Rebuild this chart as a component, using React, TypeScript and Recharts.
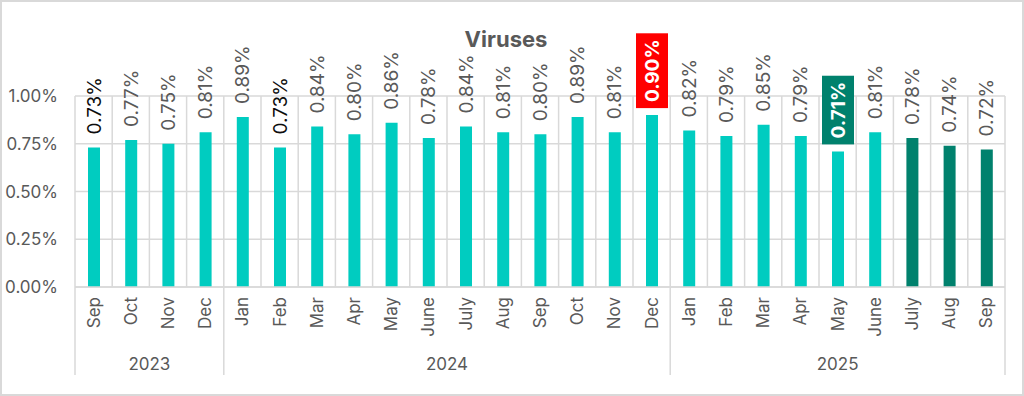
import React from "react";
import { BarChart, Bar, XAxis, YAxis, CartesianGrid, LabelList, Cell } from "recharts";

const months = [
  "Sep", "Oct", "Nov", "Dec",
  "Jan", "Feb", "Mar", "Apr", "May", "June", "July", "Aug", "Sep", "Oct", "Nov", "Dec",
  "Jan", "Feb", "Mar", "Apr", "May", "June", "July", "Aug", "Sep",
];
const years = [
  "2023", "2023", "2023", "2023",
  "2024", "2024", "2024", "2024", "2024", "2024", "2024", "2024", "2024", "2024", "2024", "2024",
  "2025", "2025", "2025", "2025", "2025", "2025", "2025", "2025", "2025",
];
const viruses = [
  0.73, 0.77, 0.75, 0.81,
  0.89, 0.73, 0.84, 0.8, 0.86, 0.78, 0.84, 0.81, 0.8, 0.89, 0.81, 0.9,
  0.82, 0.79, 0.85, 0.79, 0.71, 0.81, 0.78, 0.74, 0.72,
];
const yTicks = [0, 0.25, 0.5, 0.75, 1];

// styling by index
const redLabel = 15;
const greenLabel = 20;
const darkBars = [22, 23, 24];
const blackLabels = [0, 5];

const W = 1024;
const H = 396;
const LEFT = 75;
const RIGHT = 19;
const TOP = 96;
const AXIS_H = 109;
const PLOT_W = W - LEFT - RIGHT;

const FONT = "Inter, 'Noto Sans', sans-serif";
const GRAY = "#595959";
const GRID = "#d9d9d9";
const TEAL = "#00ccc0";
const DARK = "#00816d";

const data = months.map((m, i) => ({ id: `${years[i]}-${m}-${i}`, month: m, year: years[i], value: viruses[i] }));

let ctx: CanvasRenderingContext2D | null = null;
function measure(text: string, font: string) {
  if (!ctx) ctx = document.createElement("canvas").getContext("2d");
  if (!ctx) return text.length * 12;
  ctx.font = font;
  return ctx.measureText(text).width;
}

const MonthTick = (props: any) => {
  const { x, y, payload } = props;
  const i = props.index ?? payload.index;
  const band = PLOT_W / months.length;
  const year = years[i];
  const first = i === 0 || years[i - 1] !== year;
  const last = i === months.length - 1;
  let n = 0;
  while (first && years[i + n] === year) n++;
  return (
    <g>
      <text
        transform={`translate(${x},${y + 10}) rotate(-90)`}
        textAnchor="end"
        dominantBaseline="central"
        fontSize={17}
        fontFamily={FONT}
        fill={GRAY}
      >
        {months[i]}
      </text>
      {first && <line x1={x - band / 2} x2={x - band / 2} y1={y} y2={y + 88} stroke={GRID} strokeWidth={1.5} />}
      {last && <line x1={x + band / 2} x2={x + band / 2} y1={y} y2={y + 88} stroke={GRID} strokeWidth={1.5} />}
      {first && (
        <text
          x={x - band / 2 + (n * band) / 2}
          y={y + 77}
          textAnchor="middle"
          dominantBaseline="central"
          fontSize={17}
          fontFamily={FONT}
          fill={GRAY}
        >
          {year}
        </text>
      )}
    </g>
  );
};

const renderLabel = (p: any) => {
  const { x, y, width, value, index } = p;
  const cx = Number(x) + Number(width) / 2;
  const base = Number(y) - 13;
  const text = Number(value).toFixed(2) + "%";
  const box = index === redLabel ? "#ff0000" : index === greenLabel ? DARK : null;
  if (box) {
    const len = measure(text, `bold 19px ${FONT}`);
    return (
      <g>
        <rect x={cx - 16} y={base - len - 6} width={32} height={len + 12} fill={box} />
        <text
          transform={`translate(${cx},${base}) rotate(-90)`}
          textAnchor="start"
          dominantBaseline="central"
          fontSize={19}
          fontWeight="bold"
          fontFamily={FONT}
          fill="#ffffff"
        >
          {text}
        </text>
      </g>
    );
  }
  return (
    <text
      transform={`translate(${cx},${base}) rotate(-90)`}
      textAnchor="start"
      dominantBaseline="central"
      fontSize={19}
      fontFamily={FONT}
      fill={blackLabels.includes(index) ? "#0d0d0d" : GRAY}
    >
      {text}
    </text>
  );
};

export default function App() {
  return (
    <div style={{ position: "absolute", left: 0, top: 0, width: W, height: H, background: "#fff" }}>
      <div
        style={{
          position: "absolute",
          left: 0,
          top: 26,
          width: 1012,
          textAlign: "center",
          fontFamily: FONT,
          fontWeight: 700,
          fontSize: 22,
          color: GRAY,
        }}
      >
        Viruses
      </div>
      <BarChart width={W} height={H} data={data} margin={{ top: TOP, right: RIGHT, bottom: 0, left: 0 }}>
        <CartesianGrid
          stroke={GRID}
          strokeWidth={1.5}
          verticalCoordinatesGenerator={({ offset }: any) =>
            Array.from({ length: months.length + 1 }, (_, i) => offset.left + (i * offset.width) / months.length)
          }
        />
        <XAxis
          dataKey="id"
          interval={0}
          height={AXIS_H}
          tickSize={0}
          tickMargin={0}
          axisLine={{ stroke: GRID, strokeWidth: 1.5 }}
          tickLine={false}
          tick={<MonthTick />}
        />
        <YAxis
          width={LEFT}
          domain={[0, 1]}
          ticks={yTicks}
          axisLine={false}
          tickLine={false}
          tickSize={0}
          tickMargin={17}
          tick={{ fontSize: 17, fill: GRAY, fontFamily: FONT }}
          tickFormatter={(v: number) => v.toFixed(2) + "%"}
        />
        <Bar dataKey="value" barSize={12} isAnimationActive={false}>
          {data.map((d, i) => (
            <Cell key={d.id} fill={darkBars.includes(i) ? DARK : TEAL} />
          ))}
          <LabelList dataKey="value" content={renderLabel} />
        </Bar>
      </BarChart>
      <div
        style={{
          position: "absolute",
          left: 0,
          top: 0,
          width: W,
          height: H,
          boxSizing: "border-box",
          border: "2px solid #d9d9d9",
          pointerEvents: "none",
        }}
      />
    </div>
  );
}
